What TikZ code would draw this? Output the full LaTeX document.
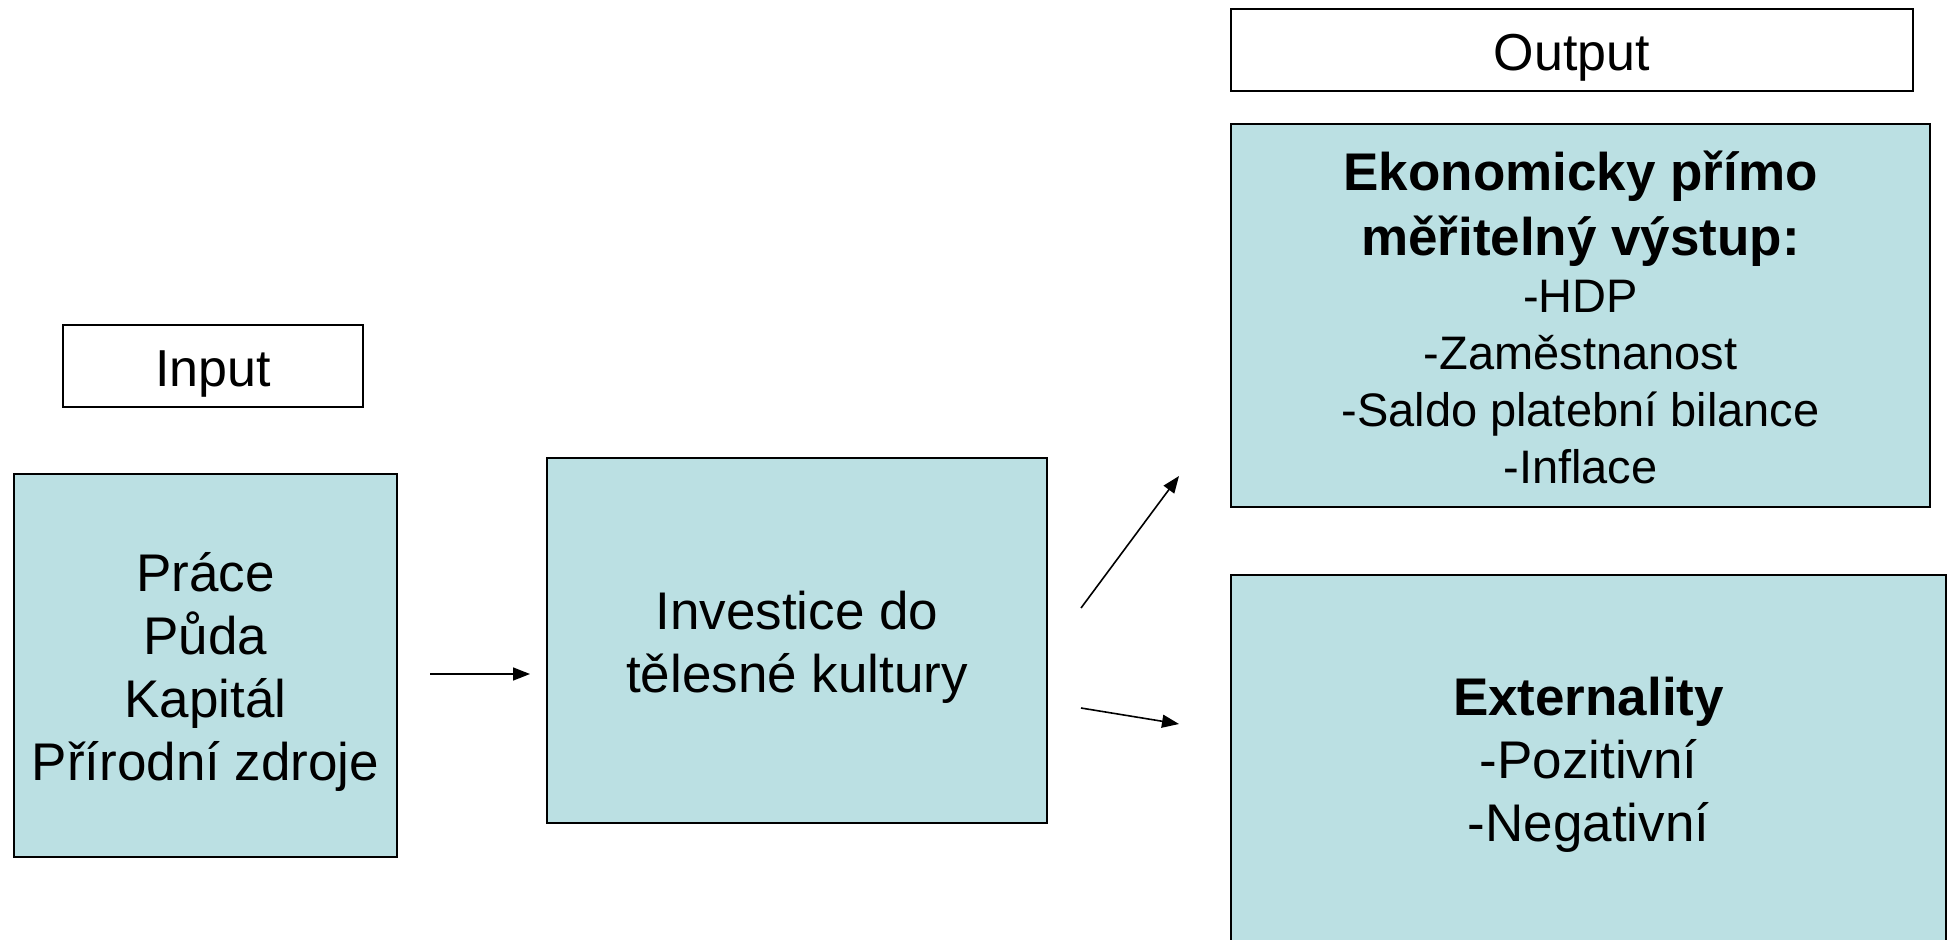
\documentclass[tikz,border=0pt]{standalone}
\usepackage{fontspec}
\setmainfont{Liberation Sans}
\usetikzlibrary{arrows.meta}
\definecolor{boxfill}{RGB}{187,224,227}
\newcommand\mynolsl{\lineskiplimit-100pt\relax}
\begin{document}
\begin{tikzpicture}[x=1pt,y=-1pt,
  box/.style={draw=black,line width=1.5pt,fill=boxfill,inner sep=0pt},
  labelbox/.style={draw=black,line width=1.5pt,fill=white,inner sep=0pt},
  txt/.style={inner sep=0pt,align=center,font={\fontsize{53}{63}\selectfont\mynolsl}},
  labeltxt/.style={inner sep=0pt,align=center,font={\fontsize{52}{62}\selectfont}},
  conn/.style={line width=1.6pt,-{Triangle[length=17pt,width=13pt]}}]
\useasboundingbox[fill=white] (0,0) rectangle (1950,939);

\node[labelbox,minimum width=300pt,minimum height=82pt] (input) at (213,366) {};
\node[labeltxt] (inputtext) at ([yshift=-8pt]input.center) {Input};
\node[labelbox,minimum width=682pt,minimum height=82pt] (output) at (1572,50) {};
\node[labeltxt] (outputtext) at ([yshift=-8pt]output.center) {Output};

\node[box,minimum width=383pt,minimum height=383pt] (res) at (205.5,665.5) {};
\node[txt] (restext) at ([yshift=-6pt]res.center)
  {Práce\\Půda\\Kapitál\\Přírodní zdroje};

\node[box,minimum width=500pt,minimum height=365pt] (inv) at (797,640.5) {};
\node[txt] (invtext) at ([yshift=-7pt]inv.center)
  {Investice do\\tělesné kultury};

\node[box,minimum width=699pt,minimum height=383pt] (eco) at (1580.5,315.5) {};
\node[txt,font={\fontsize{47}{57}\selectfont\mynolsl}] (ecotext) at ([yshift=-2pt]eco.center)
  {{\fontsize{53}{65}\selectfont\bfseries Ekonomicky přímo}\\[8pt]
   {\fontsize{53}{65}\selectfont\bfseries měřitelný výstup:}\\[0pt]
   -HDP\\-Zaměstnanost\\-Saldo platební bilance\\-Inflace};

\node[box,minimum width=715pt,minimum height=370pt] (ext) at (1588.5,760) {};
\node[txt] (exttext) at ([yshift=-5pt]ext.center)
  {\textbf{Externality}\\-Pozitivní\\-Negativní};

\coordinate (a1s) at (430,674);
\coordinate (a1e) at (530,674);
\coordinate (a2s) at (1081,608);
\coordinate (a2e) at (1179,476);
\coordinate (a3s) at (1081,708);
\coordinate (a3e) at (1179,724);
\draw[conn] (a1s) -- (a1e);
\draw[conn] (a2s) -- (a2e);
\draw[conn] (a3s) -- (a3e);
\end{tikzpicture}
\end{document}
